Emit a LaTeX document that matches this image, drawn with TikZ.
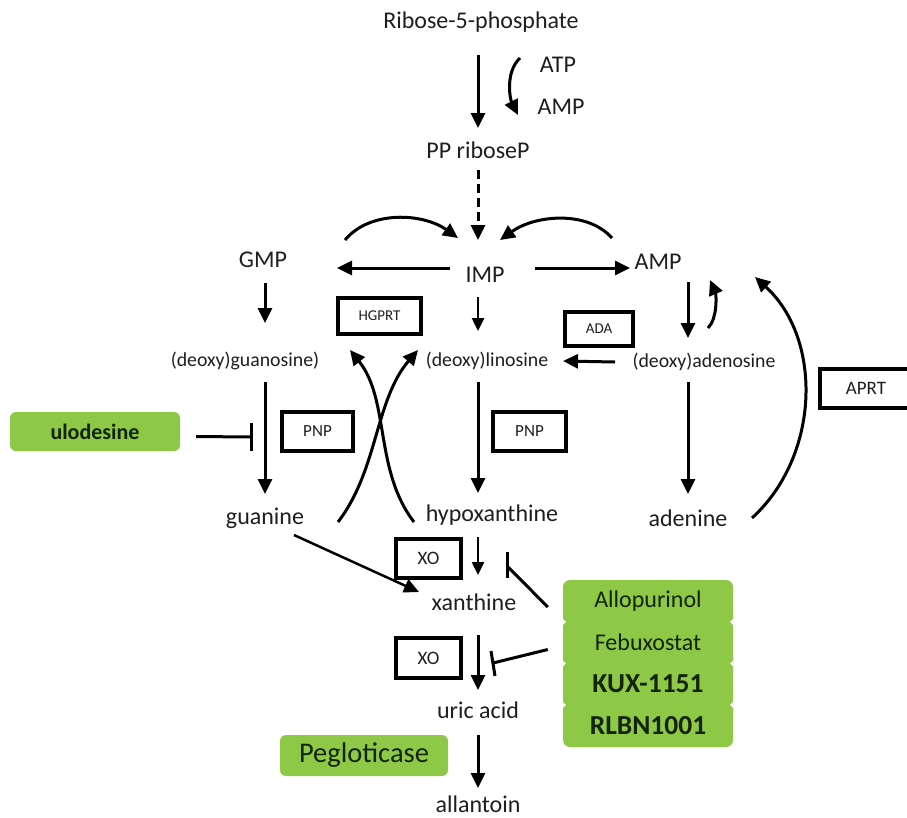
\documentclass[tikz,border=0pt]{standalone}
\usepackage{fontspec}
\setmainfont{Carlito}
\usetikzlibrary{arrows.meta,calc}
\definecolor{drug}{RGB}{141,200,70}
\definecolor{ink}{RGB}{30,30,30}
\definecolor{druginkc}{RGB}{20,35,10}
\tikzset{
  lbl/.style={font=\fontsize{24}{28}\selectfont, text=ink, inner sep=2pt},
  sml/.style={font=\fontsize{19.8}{23}\selectfont, text=ink, inner sep=2pt},
  enz/.style={draw=black, line width=4.4pt, inner sep=0pt, text=ink},
  drugbox/.style={fill=drug, rounded corners=6pt, inner sep=0pt, text=druginkc},
  drugtext/.style={inner sep=0pt, text=druginkc},
  arr/.style={line width=3pt, -{Triangle[length=15pt,width=14pt]}},
  arrs/.style={line width=2.5pt, -{Triangle[length=13pt,width=12pt]}},
  inh/.style={line width=3pt},
}
\begin{document}
\begin{tikzpicture}[x=1pt,y=-1pt]
\useasboundingbox (0,0) rectangle (907,817);

% metabolites
\node[lbl] (rib) at (481,22) {Ribose-5-phosphate};
\node[lbl] (atp) at (558,65) {ATP};
\node[lbl] (amp1) at (561,107) {AMP};
\node[lbl] (pp) at (478,150) {PP riboseP};
\node[lbl] (imp) at (485,275) {IMP};
\node[lbl] (gmp) at (263,260) {GMP};
\node[lbl] (amp) at (658,262) {AMP};
\node[sml] (guo) at (245,361) {(deoxy)guanosine)};
\node[sml] (ino) at (487,361) {(deoxy)linosine};
\node[sml] (ado) at (704,362) {(deoxy)adenosine};
\node[lbl] (gua) at (265,518) {guanine};
\node[lbl] (hyp) at (492,515) {hypoxanthine};
\node[lbl] (ade) at (688,518) {adenine};
\node[lbl] (xan) at (474,602) {xanthine};
\node[lbl] (uric) at (478,710) {uric acid};
\node[lbl] (all) at (478,804) {allantoin};

% enzymes
\node[enz, minimum width=83pt, minimum height=36pt, font=\fontsize{15}{17}\selectfont] (hgprt) at (379.5,316) {HGPRT};
\node[enz, minimum width=68pt, minimum height=34pt, font=\fontsize{15}{17}\selectfont] (ada) at (599,329) {ADA};
\node[enz, minimum width=71pt, minimum height=39pt, font=\fontsize{17}{19}\selectfont] (pnp1) at (317.5,431.5) {PNP};
\node[enz, minimum width=73pt, minimum height=39pt, font=\fontsize{17}{19}\selectfont] (pnp2) at (529.5,431.5) {PNP};
\draw[line width=4.4pt] (935,369) -| (820,408) -- (935,408);
\node[inner sep=0pt, text=ink, font=\fontsize{19}{21}\selectfont] (aprt) at (866,388.5) {APRT};
\node[enz, minimum width=65pt, minimum height=39pt, font=\fontsize{19}{21}\selectfont] (xo1) at (428.5,558.5) {XO};
\node[enz, minimum width=65pt, minimum height=40pt, font=\fontsize{19}{21}\selectfont] (xo2) at (428.5,658) {XO};

% drugs
\node[drugbox, minimum width=170pt, minimum height=39pt, font=\fontsize{22}{26}\selectfont\bfseries] (ulo) at (95,431.5) {ulodesine};
\node[drugbox, minimum width=168pt, minimum height=41pt, font=\fontsize{28.5}{32}\selectfont] (peg) at (364,755.5) {Pegloticase};
\fill[drug, rounded corners=7pt] (563,580) rectangle (733,747);
\node[drugtext, minimum width=170pt, minimum height=41.5pt, font=\fontsize{24}{28}\selectfont] (allo) at (648,601) {Allopurinol};
\node[drugtext, minimum width=170pt, minimum height=41.5pt, font=\fontsize{24}{28}\selectfont] (febu) at (648,642.5) {Febuxostat};
\node[drugtext, minimum width=170pt, minimum height=41.5pt, font=\fontsize{27.5}{31}\selectfont\bfseries] (kux) at (648,684) {KUX-1151};
\node[drugtext, minimum width=170pt, minimum height=41.5pt, font=\fontsize{27.5}{31}\selectfont\bfseries] (rlbn) at (648,725.5) {RLBN1001};
\foreach \n in {allo,febu,kux}{
  \fill[white] (\n.south west) ++(0,-3) -- ++(3,3) -- ++(-3,3) -- cycle;
  \fill[white] (\n.south east) ++(0,-3) -- ++(-3,3) -- ++(3,3) -- cycle;
}

% top
\draw[arr] ($(rib)+(-3,33)$) -- ($(pp)+(0,-22)$);
\draw[arr] ($(atp)+(-38,-7)$) .. controls +(-15,14) and +(-8,-16) .. ($(amp1)+(-43,8)$);
\draw[arr, dash pattern=on 9pt off 5pt] ($(pp)+(0,20)$) -- ($(imp)+(-7,-35)$);
\draw[arr] ($(gmp)+(82,-20)$) .. controls +(25,-30) and +(-35,-25) .. ($(imp)+(-27,-37)$);
\draw[arr] ($(amp)+(-46,-24)$) .. controls +(-25,-28) and +(35,-25) .. ($(imp)+(15,-35)$);
\draw[arr] ($(imp)+(-35,-7)$) -- ($(gmp)+(74,8)$);
\draw[arr] ($(imp)+(50,-7)$) -- ($(amp)+(-28,6)$);

% second row
\draw[arr] ($(gmp)+(2,23)$) -- ($(guo)+(20,-38)$);
\draw[arrs] ($(imp)+(-7,22)$) -- ($(ino)+(-9,-30)$);
\draw[arr] ($(amp)+(30,20)$) -- ($(ado)+(-16,-24)$);
\draw[arr] ($(ado)+(4,-34)$) .. controls +(10,-10) and +(6,14) .. ($(amp)+(52,18)$);
\draw[arr] ($(ado)+(-89,0)$) -- ($(ino)+(76,0)$);

% third row
\draw[arr] ($(guo)+(20,21)$) -- ($(gua)+(0,-24)$);
\draw[arr] ($(ino)+(-9,21)$) -- ($(hyp)+(-14,-22)$);
\draw[arr] ($(ado)+(-16,20)$) -- ($(ade)+(0,-24)$);
\draw[arr] ($(ade)+(64,0)$) .. controls +(68,-62) and +(68,62) .. ($(amp)+(97,15)$);
\draw[inh] ($(ulo.east)+(16,5)$) coordinate (ulend) -- ($(guo)+(6,76)$) coordinate (ulbar);
\draw[inh] ($(ulbar)+(0,-14)$) -- ($(ulbar)+(0,14)$);

% salvage crossing
\draw[arr] ($(gua)+(73,4)$) .. controls +(40,-52) and +(-43,50) .. ($(ino)+(-69,-11)$);
\draw[arr] ($(hyp)+(-78,7)$) .. controls +(-40,-52) and +(40,50) .. ($(guo)+(105,-11)$);

% xanthine
\draw[arrs] ($(hyp)+(-14,22)$) -- ($(xan)+(4,-27)$);
\draw[arr, line width=2.5pt] ($(gua)+(29,17)$) -- ($(xan)+(-55,-10)$);
\draw[inh] (allo.west) ++(-15,6) coordinate (a1) -- ($(xan)+(34,-35)$) coordinate (a2);
\draw[inh] ($(a2)+(-1,-15)$) -- ($(a2)+(-1,11)$);
\draw[arr] ($(xan)+(4,33)$) -- ($(uric)+(0,-20)$);
\draw[inh] (febu.west) ++(-15,7) coordinate (f1) -- ($(uric)+(15,-47)$) coordinate (f2);
\draw[inh] ($(f2)+(-2,-12)$) -- ($(f2)+(2,13)$);
\draw[arr] ($(uric)+(0,25)$) -- ($(all)+(0,-16)$);
\end{tikzpicture}
\end{document}
